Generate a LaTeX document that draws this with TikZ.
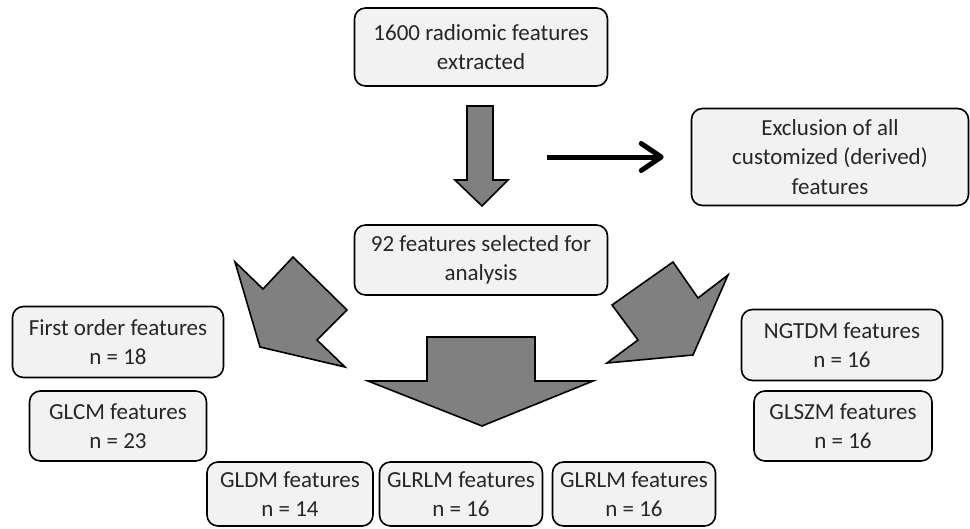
\documentclass[tikz,border=0pt]{standalone}
\usepackage{fontspec}
\setmainfont{Carlito}
\usetikzlibrary{arrows.meta}
\definecolor{boxfill}{HTML}{F2F2F2}
\definecolor{arrowfill}{HTML}{808080}
\definecolor{txt}{HTML}{262626}
\begin{document}
\begin{tikzpicture}[x=1pt,y=-1pt,
  box/.style={draw=black, line width=1.6pt, fill=boxfill, rounded corners=11pt,
    align=center, text=txt, font=\fontsize{23}{29.5}\selectfont, inner sep=0pt},
  blockarrow/.style={draw=black, line width=1.6pt, fill=arrowfill, line join=miter}]
\useasboundingbox (0,0) rectangle (970,528);

% boxes
\node[box, minimum width=253pt, minimum height=78pt] (top) at (481,47) {1600 radiomic features\\extracted};
\node[box, minimum width=277pt, minimum height=97pt] (excl) at (830,157) {Exclusion of all\\customized (derived)\\features};
\node[box, minimum width=253pt, minimum height=70pt] (sel) at (481,260) {92 features selected for\\analysis};
\node[box, minimum width=211pt, minimum height=71pt] (first) at (118,342) {First order features\\n = 18};
\node[box, minimum width=177pt, minimum height=70pt] (glcm) at (118,426) {GLCM features\\n = 23};
\node[box, minimum width=166pt, minimum height=64pt] (gldm) at (290,494) {GLDM features\\n = 14};
\node[box, minimum width=163pt, minimum height=64pt] (glrlma) at (461,494) {GLRLM features\\n = 16};
\node[box, minimum width=163pt, minimum height=64pt] (glrlmb) at (634,494) {GLRLM features\\n = 16};
\node[box, minimum width=201pt, minimum height=71pt] (ngtdm) at (842,345) {NGTDM features\\n = 16};
\node[box, minimum width=178pt, minimum height=70pt] (glszm) at (843,426) {GLSZM features\\n = 16};

% vertical block arrow
\draw[blockarrow] (467,106) -- (493,106) -- (493,180) -- (508,180) -- (482,206) -- (455,180) -- (467,180) -- cycle;

% horizontal arrow
\coordinate (hstart) at (547,157);
\draw[line width=5pt, -{Straight Barb[length=20pt, width=27pt, line width=5pt, round]}] (hstart) -- ([xshift=-27pt]excl.west);

% left diagonal arrow
\draw[blockarrow] (293,257) -- (347,310) -- (317,340) -- (345,367) -- (260,347) -- (235,262) -- (263,289) -- cycle;

% right diagonal arrow
\draw[blockarrow] (612,305) -- (673,262) -- (698,298) -- (728,275) -- (693,355) -- (607,363) -- (638,340) -- cycle;

% central big arrow
\draw[blockarrow] (427,337) -- (535,337) -- (535,381) -- (593,381) -- (482,426) -- (368,381) -- (427,381) -- cycle;
\end{tikzpicture}
\end{document}
